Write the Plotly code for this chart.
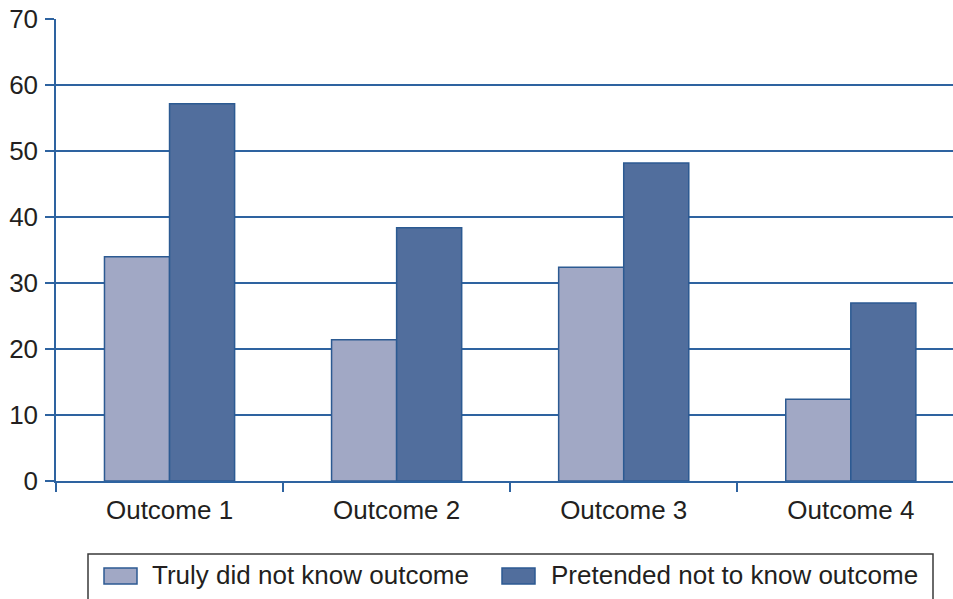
import plotly.graph_objects as go

categories = ["Outcome 1", "Outcome 2", "Outcome 3", "Outcome 4"]
truly_did_not_know = [34.0, 21.4, 32.4, 12.4]
pretended_not_know = [57.2, 38.4, 48.2, 27.0]
series_names = ["Truly did not know outcome", "Pretended not to know outcome"]
y_ticks = [0, 10, 20, 30, 40, 50, 60, 70]

LIGHT = "#A1A8C5"
DARK = "#516E9D"
EDGE = "#2C5A92"
AXIS = "#2E63A0"
TEXT = "#231F20"
FONT = "Liberation Sans, Arial, sans-serif"
FS = 26

W, H = 953, 599
ML, MR, MT, MB = 56, 0, 19, 118
PW, PH = W - ML - MR, H - MT - MB


def px(x):
    return (x - ML) / PW


def py(y):
    return (H - MB - y) / PH


fig = go.Figure()
fig.add_trace(go.Bar(x=categories, y=truly_did_not_know, name=series_names[0],
                     marker=dict(color=LIGHT, line=dict(color=EDGE, width=1.5))))
fig.add_trace(go.Bar(x=categories, y=pretended_not_know, name=series_names[1],
                     marker=dict(color=DARK, line=dict(color=EDGE, width=1.5))))

# custom legend
shapes = [
    dict(type="rect", xref="paper", yref="paper",
         x0=px(88), x1=px(933), y0=py(554), y1=py(615),
         line=dict(color="#3a3a3a", width=1.5), fillcolor="rgba(0,0,0,0)"),
    dict(type="rect", xref="paper", yref="paper",
         x0=px(104), x1=px(137), y0=py(568), y1=py(584),
         line=dict(color=EDGE, width=1.5), fillcolor=LIGHT),
    dict(type="rect", xref="paper", yref="paper",
         x0=px(502), x1=px(535), y0=py(568), y1=py(584),
         line=dict(color=EDGE, width=1.5), fillcolor=DARK),
]
annotations = [
    dict(xref="paper", yref="paper", x=px(150), y=py(575), text=series_names[0],
         showarrow=False, xanchor="left", yanchor="middle",
         font=dict(family=FONT, size=FS, color=TEXT)),
    dict(xref="paper", yref="paper", x=px(549), y=py(575), text=series_names[1],
         showarrow=False, xanchor="left", yanchor="middle",
         font=dict(family=FONT, size=FS, color=TEXT)),
]

fig.update_layout(
    width=W, height=H,
    margin=dict(l=ML, r=MR, t=MT, b=MB, autoexpand=False),
    paper_bgcolor="white", plot_bgcolor="white",
    barmode="group", bargap=0.427, bargroupgap=0,
    showlegend=False,
    font=dict(family=FONT, size=FS, color=TEXT),
    shapes=shapes, annotations=annotations,
)
fig.update_xaxes(
    range=[-0.5, 3.45], showline=True, linecolor=AXIS, linewidth=1.5,
    ticks="outside", tickson="boundaries", ticklen=9, tickcolor=AXIS, tickwidth=1.5,
    showgrid=False, tickfont=dict(family=FONT, size=FS, color=TEXT),
    ticklabelstandoff=5,
)
fig.update_yaxes(
    range=[0, 70.03], tickvals=y_ticks, showline=True, linecolor=AXIS, linewidth=1.5,
    ticks="outside", ticklen=9, tickcolor=AXIS, tickwidth=1.5,
    showgrid=True, gridcolor=AXIS, gridwidth=1.5, zeroline=False,
    tickfont=dict(family=FONT, size=FS, color=TEXT), ticklabelstandoff=2,
    ticklabeloverflow="allow",
)

# remove the browser's default 8px page margin so the figure fills the window
fig.write_html("out.html", config={"displayModeBar": False},
               post_script="document.body.style.margin='0';document.body.style.overflow='hidden';")
